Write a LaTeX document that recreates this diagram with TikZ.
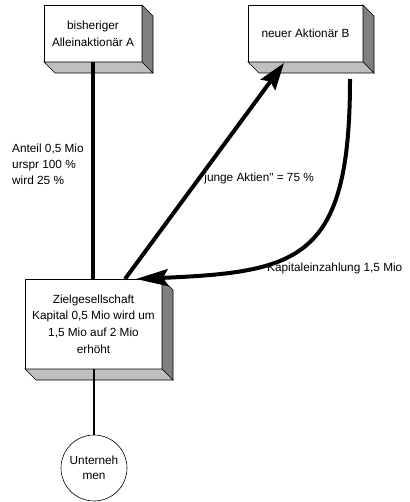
\documentclass[tikz,border=0pt]{standalone}
\usepackage{fontspec}
\setmainfont{Liberation Sans}
\newfontfamily\plainfont{Liberation Sans}
\usetikzlibrary{arrows.meta}
\begin{document}
\begin{tikzpicture}[x=1pt,y=-1pt,
  box/.style={draw=black, line width=0.6pt, fill=white, inner sep=0pt, outer sep=0pt, align=center,
    font=\fontsize{11.8}{16.7}\selectfont},
  lbl/.style={inner sep=0pt, font=\fontsize{11.8}{16.2}\selectfont, align=left},
  sidefc/.style={draw=black, line width=0.6pt, fill=black!50},
  botfc/.style={draw=black, line width=0.6pt, fill=black!25},
  thickline/.style={line width=4pt},
  bigtip/.style={-{Stealth[length=27pt,width=18pt,inset=4pt]}},
  longtip/.style={-{Stealth[length=32pt,width=17pt,inset=5pt]}}
]
\useasboundingbox (0,0) rectangle (409,502);

% boxes
\node[box, minimum width=98pt, minimum height=57pt] (A) at (93,33.5) {bisheriger\\Alleinaktionär A};
\node[box, minimum width=115pt, minimum height=57pt] (B) at (305.5,33.5) {neuer Aktionär B};
\node[box, minimum width=137pt, minimum height=90pt] (Z) at (93.5,324) {Zielgesellschaft\\Kapital 0,5 Mio wird um\\1,5 Mio auf 2 Mio\\erhöht};

\foreach \n in {A,B,Z}{
  \draw[sidefc] (\n.north east) -- ([shift={(11,11)}]\n.north east) -- ([shift={(11,11)}]\n.south east) -- (\n.south east) -- cycle;
  \draw[botfc] (\n.south west) -- ([shift={(11,11)}]\n.south west) -- ([shift={(11,11)}]\n.south east) -- (\n.south east) -- cycle;
}

\node[draw=black, line width=0.6pt, circle, minimum size=66pt, inner sep=0pt, align=center,
  font=\fontsize{11.8}{14.5}\selectfont] (U) at (94,468) {Unterneh\\men};

% labels
\node[lbl, anchor=west] (lA) at (12,164.5) {Anteil 0,5 Mio\\urspr 100 \%\\wird 25 \%};
\node[lbl, anchor=west] (lJ) at (200,178) {\plainfont "junge Aktien" = 75 \%};
\node[lbl, anchor=west] (lK) at (267,268) {Kapitaleinzahlung 1,5 Mio};

% connectors
\coordinate (d1) at (125,279);
\coordinate (d2) at (284,63);
\coordinate (c1) at (350,79);
\coordinate (c2) at (136,279);

\draw[thickline] (A.south) -- (A.south |- Z.north);
\draw[thickline, bigtip] (d1) -- (d2);
\draw[thickline, longtip] (c1) .. controls (350,260) and (300,272) .. (c2);
\draw[line width=2pt] (Z.south -| U.north) -- (U.north);
\end{tikzpicture}
\end{document}
